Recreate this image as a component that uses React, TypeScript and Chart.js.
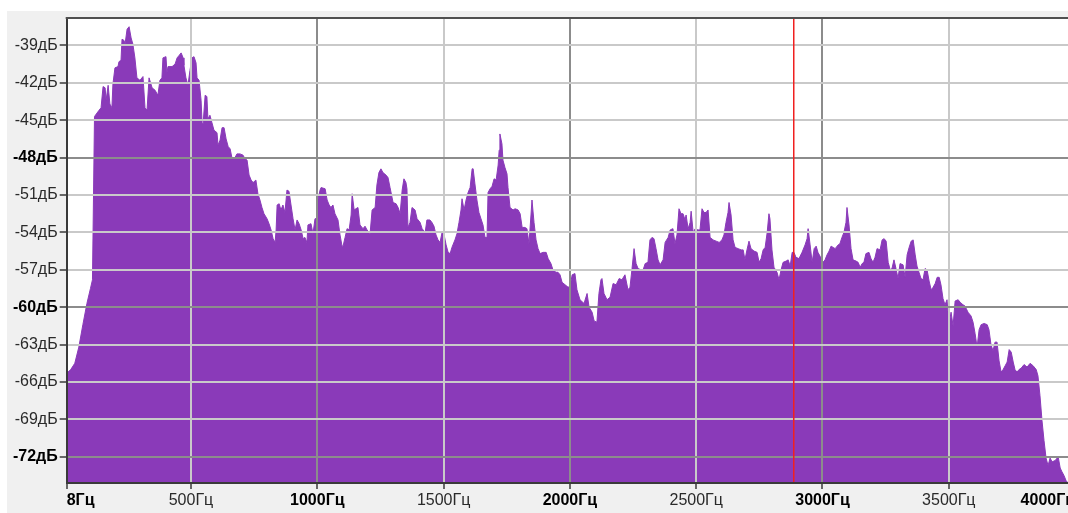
import React, { useEffect, useRef } from "react";
import { Chart, registerables } from "chart.js";

Chart.register(...registerables);

// Spectrum: frequency (Hz) and level (dB), in bands
const lowFreq = [8,24,40,56,72,88,102,110,118,136,144,152,160,164,172,179,187,191,199,211,215,223,227,235,239,247,255,263,270,278,286,298,306,310,318,326,334,346,358,369,377,385,389,401,405,409,425,437,445,453,461,469,472,480,488,496,504,512,520,524,532,540,544,548,556,563,567,575,583,591,603,607,615,623,631,639,647,655,662,674,682,694,706,714,722];
const lowDb = [-65.3,-65.0,-64.5,-63.2,-61.4,-59.7,-58.5,-57.8,-44.7,-44.2,-44.0,-42.3,-42.4,-43.4,-42.2,-43.7,-44.0,-42.1,-40.8,-40.7,-40.3,-40.2,-38.5,-38.6,-38.9,-37.7,-37.5,-38.4,-38.9,-40.0,-41.6,-41.8,-41.6,-41.5,-44.0,-44.2,-41.6,-42.4,-42.6,-43.0,-41.8,-41.6,-40.0,-39.9,-41.2,-40.7,-40.7,-40.5,-40.0,-39.8,-39.6,-40.0,-40.6,-41.6,-42.2,-41.0,-40.0,-39.9,-40.4,-41.6,-41.8,-43.4,-45.2,-45.3,-43.0,-43.1,-44.9,-44.6,-45.2,-45.8,-46.0,-47.0,-46.6,-45.6,-45.6,-46.5,-47.1,-47.3,-48.0,-48.0,-47.7,-47.7,-47.8,-48.1,-48.2];

const midFreq = [730,738,746,757,765,773,781,789,801,809,817,825,833,837,841,849,856,864,872,880,888,896,904,912,920,928,936,944,951,959,963,975,983,991,999,1003,1011,1015,1031,1039,1047,1054,1062,1070,1082,1090,1098,1102,1110,1118,1126,1134,1138,1146,1153,1161,1169,1181,1189,1197,1209,1217,1229,1236,1244,1252,1260,1272,1280,1288,1300,1312,1320,1328,1336,1343,1351,1355,1359,1367,1375,1387,1395,1407,1415,1427,1434,1446,1454,1462,1470,1478,1486,1494,1502,1510,1518,1526];
const midDb = [-49.4,-49.8,-50.0,-49.8,-50.9,-51.4,-52.0,-52.5,-52.9,-53.3,-53.8,-54.5,-54.8,-53.8,-51.8,-51.7,-52.2,-51.8,-52.4,-50.6,-50.7,-51.8,-52.9,-53.8,-53.0,-53.3,-53.8,-54.5,-54.4,-54.8,-53.4,-53.3,-54.1,-52.9,-52.9,-51.3,-50.6,-50.4,-50.5,-51.4,-51.8,-52.0,-51.8,-52.5,-53.0,-54.2,-55.1,-55.1,-54.4,-53.7,-53.8,-52.6,-50.9,-52.2,-52.1,-52.0,-53.4,-53.7,-53.5,-53.8,-54.1,-52.2,-52.0,-50.2,-49.2,-48.9,-49.2,-49.4,-49.6,-50.4,-51.6,-51.7,-52.0,-52.5,-50.6,-49.7,-50.0,-50.5,-53.6,-53.2,-52.0,-52.2,-52.9,-53.2,-53.7,-54.0,-53.0,-53.0,-53.2,-53.5,-54.2,-54.6,-54.8,-54.0,-54.2,-55.0,-55.6,-55.7];

const highFreq = [1533,1545,1553,1561,1569,1573,1581,1589,1597,1605,1613,1617,1624,1632,1640,1648,1656,1664,1672,1676,1684,1692,1700,1708,1716,1720,1723,1731,1735,1743,1751,1755,1763,1775,1783,1795,1803,1811,1822,1830,1838,1846,1850,1858,1866,1874,1882,1894,1906,1914,1925,1933,1945,1953,1961,1969,1981,1993,2001,2009,2020,2028,2040,2056,2068,2076,2088,2096,2107,2115,2123,2127,2135,2147,2159,2171,2183,2195,2206,2218,2230,2238,2246,2254,2262,2270,2282,2290,2298,2309,2317,2325,2333,2341,2349,2357];
const highDb = [-55.2,-54.6,-54.1,-53.2,-52.2,-51.3,-52.2,-51.4,-50.8,-50.4,-48.9,-48.9,-50.1,-51.4,-52.4,-52.9,-53.4,-54.4,-54.4,-50.8,-50.5,-50.3,-49.7,-49.8,-48.6,-47.4,-46.1,-46.9,-48.2,-48.8,-49.3,-50.4,-52.0,-52.2,-52.1,-52.2,-52.5,-53.6,-53.6,-53.7,-54.9,-52.6,-51.4,-53.2,-54.6,-55.3,-55.7,-55.6,-55.6,-56.1,-56.5,-57.0,-57.2,-57.2,-57.4,-58.0,-58.2,-58.4,-58.3,-57.4,-57.3,-58.6,-59.4,-59.7,-58.9,-60.0,-60.4,-61.1,-61.2,-58.9,-57.8,-57.7,-58.9,-59.4,-59.2,-58.1,-58.2,-57.7,-57.8,-57.4,-58.6,-58.4,-56.9,-55.3,-56.5,-56.9,-57.0,-57.0,-56.5,-56.4,-54.6,-54.4,-54.5,-55.3,-56.2,-56.6];

const upperFreq = [2369,2377,2389,2397,2408,2416,2424,2432,2440,2448,2456,2460,2468,2476,2480,2488,2496,2507,2515,2523,2531,2539,2547,2555,2567,2579,2591,2602,2610,2618,2626,2630,2638,2646,2654,2666,2678,2686,2693,2701,2709,2717,2729,2741,2749,2757,2765,2773,2781,2788,2792,2800,2808,2820,2828,2836,2844,2856,2864,2872,2880,2887,2895,2907,2919,2931,2939,2943,2951,2959,2967,2975,2982,2990,3002,3010,3018,3026,3034,3042,3050,3062,3069,3077,3085,3093,3097,3105,3113,3121,3133,3141,3149,3157,3164,3172];
const upperDb = [-56.2,-54.8,-54.4,-53.8,-53.7,-54.9,-54.2,-52.1,-52.5,-52.5,-53.0,-52.6,-53.7,-53.2,-52.3,-54.0,-53.7,-53.8,-53.8,-52.1,-52.4,-52.4,-52.2,-54.4,-54.6,-54.7,-54.8,-54.6,-54.2,-53.2,-52.4,-51.6,-52.6,-54.6,-55.2,-55.3,-55.4,-55.4,-56.2,-55.4,-54.7,-55.3,-55.5,-55.6,-56.4,-56.1,-55.4,-55.2,-54.0,-52.5,-52.9,-55.4,-56.8,-57.2,-57.8,-57.0,-56.4,-56.3,-56.2,-56.7,-55.6,-55.6,-56.0,-56.1,-55.6,-55.0,-54.5,-53.7,-55.0,-56.4,-55.3,-55.1,-55.6,-55.9,-56.4,-56.2,-55.8,-55.5,-55.1,-55.2,-55.3,-55.0,-54.9,-54.4,-54.0,-53.2,-52.0,-53.4,-55.3,-56.2,-56.3,-56.4,-56.8,-56.5,-56.4,-55.7];

const topFreq = [3184,3192,3200,3208,3216,3228,3236,3244,3252,3260,3268,3275,3283,3291,3299,3307,3319,3327,3335,3343,3351,3359,3367,3374,3382,3390,3398,3406,3414,3422,3430,3438,3446,3454,3462,3469,3477,3485,3493,3501,3509,3517,3525,3537,3545,3556,3564,3576,3588,3596,3604,3612,3620,3628,3640,3652,3659,3667,3675,3683,3691,3699,3707,3715,3723,3731,3739,3747,3755,3762,3770,3778,3786,3798,3810,3822,3834,3846,3853,3861,3869,3877,3885,3893,3901,3909,3921,3933,3941,3948,3956,3964,3972,4000];
const topDb = [-55.6,-56.1,-56.4,-56.0,-55.3,-55.4,-54.6,-54.5,-54.7,-56.4,-57.0,-56.9,-56.2,-56.9,-57.7,-56.5,-56.6,-57.6,-55.8,-55.2,-54.7,-54.6,-55.8,-56.7,-57.2,-57.7,-57.8,-56.9,-57.0,-57.9,-58.6,-58.4,-58.1,-57.6,-57.6,-58.2,-59.3,-59.8,-59.4,-61.4,-60.4,-61.5,-59.5,-59.4,-59.6,-59.8,-59.9,-60.4,-60.7,-61.2,-62.1,-63.2,-61.8,-61.4,-61.3,-61.4,-61.8,-63.0,-63.5,-62.8,-62.8,-64.3,-65.2,-65.0,-64.7,-64.4,-63.4,-63.6,-64.4,-65.0,-65.2,-65.0,-64.9,-64.6,-64.8,-64.5,-64.7,-65.0,-65.5,-67.1,-69.1,-70.7,-72.1,-72.7,-72.1,-72.4,-72.3,-72.0,-72.9,-73.2,-73.5,-73.9,-74.1,-74.1];

// Axes
const yTickValues = [-39, -42, -45, -48, -51, -54, -57, -60, -63, -66, -69, -72];
const xTickValues = [8, 500, 1000, 1500, 2000, 2500, 3000, 3500, 4000];
const boldYTicks = [-48, -60, -72];
const boldXTicks = [8, 1000, 2000, 3000, 4000];
const yUnit = "дБ";
const xUnit = "Гц";
const Y_MIN = -74.1;
const Y_MAX = -36.8;
const X_MIN = 8;
const X_MAX = 4000;
const cursorFreq = 2882;

const FONT = "'Liberation Sans', Arial, sans-serif";
const FILL = "#8a3ab9";
const GRID_MAJOR = "#8c8c8c";
const GRID_MINOR = "#c9c9c9";
const CURSOR = "#f02020";

export default function App() {
  const canvasRef = useRef<HTMLCanvasElement | null>(null);

  useEffect(() => {
    const canvas = canvasRef.current;
    if (!canvas) return;
    const freqs = [...lowFreq, ...midFreq, ...highFreq, ...upperFreq, ...topFreq];
    const levels = [...lowDb, ...midDb, ...highDb, ...upperDb, ...topDb];
    const points = freqs.map((f, i) => ({ x: f, y: levels[i] }));

    const framePlugin = {
      id: "frame",
      beforeDraw(chart: any) {
        const { ctx, chartArea: a } = chart;
        ctx.save();
        ctx.fillStyle = "#ffffff";
        ctx.fillRect(a.left, a.top, a.right - a.left, a.bottom - a.top);
        ctx.restore();
      },
      afterDraw(chart: any) {
        const { ctx, chartArea: a, scales } = chart;
        ctx.save();
        ctx.fillStyle = "#505050";
        ctx.fillRect(a.left - 1, a.top - 1, a.right - a.left + 30, 2);
        const x = Math.round(scales.x.getPixelForValue(cursorFreq));
        ctx.fillStyle = CURSOR;
        ctx.fillRect(x, a.top + 1, 1.5, a.bottom - a.top - 2);
        ctx.restore();
      },
    };

    const chart = new Chart(canvas, {
      type: "line",
      data: {
        datasets: [
          {
            data: points,
            fill: "start",
            backgroundColor: FILL,
            borderColor: FILL,
            borderWidth: 1,
            pointRadius: 0,
            tension: 0,
          },
        ],
      },
      options: {
        animation: false,
        responsive: false,
        devicePixelRatio: 1,
        layout: { padding: { top: 7, right: 11.9, left: 0, bottom: 0 } },
        plugins: { legend: { display: false }, tooltip: { enabled: false } },
        scales: {
          x: {
            type: "linear",
            min: X_MIN,
            max: X_MAX,
            afterBuildTicks: (s: any) => {
              s.ticks = xTickValues.map((v) => ({ value: v }));
            },
            afterFit: (s: any) => {
              s.height = 30;
              s.paddingLeft = 0;
              s.paddingRight = 0;
            },
            ticks: {
              autoSkip: false,
              maxRotation: 0,
              minRotation: 0,
              align: "inner",
              padding: 2,
              callback: (v: any) => `${v}${xUnit}`,
              font: (c: any) => ({
                family: FONT,
                size: 16,
                weight: c.tick && boldXTicks.includes(c.tick.value) ? "bold" : "normal",
              }),
              color: (c: any) => (c.tick && boldXTicks.includes(c.tick.value) ? "#000" : "#2a2a2a"),
            },
            grid: {
              z: 1,
              lineWidth: 2,
              color: (c: any) => (c.tick && boldXTicks.includes(c.tick.value) ? GRID_MAJOR : GRID_MINOR),
              tickLength: 6,
              tickColor: "#3a3a3a",
              tickWidth: 1.5,
            },
            border: { z: 2, color: "#3a3a3a", width: 2 },
          },
          y: {
            type: "linear",
            min: Y_MIN,
            max: Y_MAX,
            afterBuildTicks: (s: any) => {
              s.ticks = yTickValues.map((v) => ({ value: v }));
            },
            afterFit: (s: any) => {
              s.width = 59.7;
              s.paddingTop = 0;
              s.paddingBottom = 0;
            },
            ticks: {
              padding: 2,
              callback: (v: any) => `${v}${yUnit}`,
              font: (c: any) => ({
                family: FONT,
                size: 16,
                weight: c.tick && boldYTicks.includes(c.tick.value) ? "bold" : "normal",
              }),
              color: (c: any) => (c.tick && boldYTicks.includes(c.tick.value) ? "#000" : "#2a2a2a"),
            },
            grid: {
              z: 1,
              lineWidth: 2,
              color: (c: any) => (c.tick && boldYTicks.includes(c.tick.value) ? GRID_MAJOR : GRID_MINOR),
              tickLength: 7,
              tickColor: "#3a3a3a",
              tickWidth: 1.5,
            },
            border: { z: 2, color: "#3a3a3a", width: 2 },
          },
        },
      },
      plugins: [framePlugin],
    } as any);

    return () => chart.destroy();
  }, []);

  return (
    <div
      style={{
        position: "absolute",
        left: 7,
        top: 11,
        width: 1061,
        height: 502,
        overflow: "hidden",
        background: "#f0f0f0",
      }}
    >
      <canvas ref={canvasRef} width={1080} height={502} style={{ display: "block" }} />
    </div>
  );
}
